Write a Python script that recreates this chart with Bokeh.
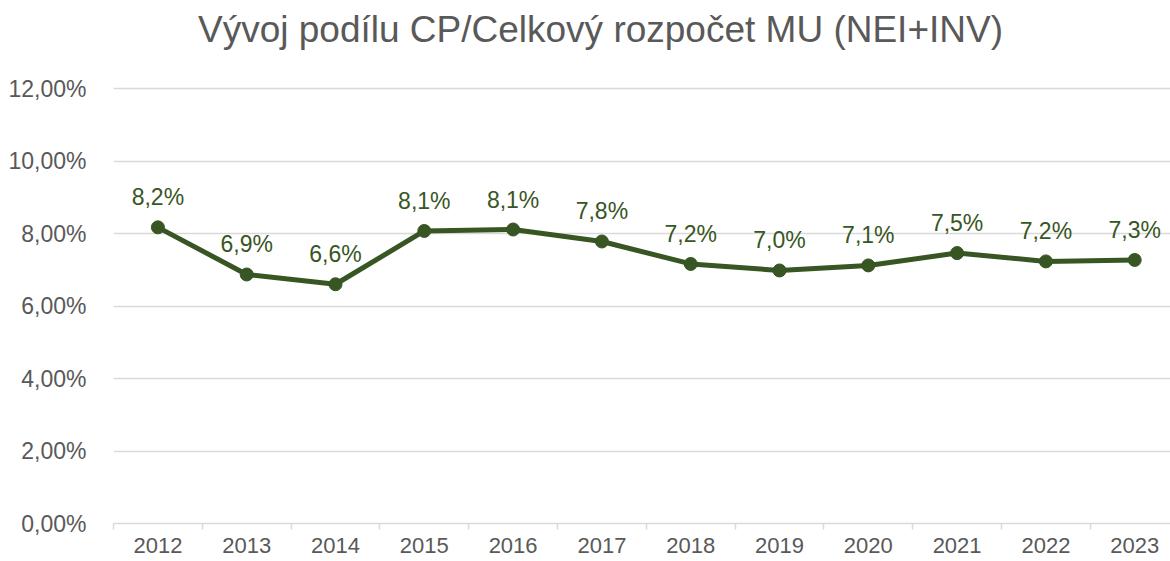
from bokeh.plotting import figure
from bokeh.models import FixedTicker, ColumnDataSource, Range1d, Label
from bokeh.embed import file_html
from bokeh.resources import INLINE
from bokeh.core.properties import value

title = "Vývoj podílu CP/Celkový rozpočet MU (NEI+INV)"
years = ["2012", "2013", "2014", "2015", "2016", "2017", "2018", "2019", "2020", "2021", "2022", "2023"]
share = [8.17, 6.87, 6.60, 8.07, 8.11, 7.78, 7.16, 6.98, 7.12, 7.46, 7.23, 7.27]
y_ticks = [0, 2, 4, 6, 8, 10, 12]

x_pos = list(range(len(years)))
labels = [("%.1f%%" % v).replace(".", ",") for v in share]
src = ColumnDataSource(dict(x=x_pos, y=share, lab=labels))

GREEN = "#375623"
GRAY = "#595959"
FONT = "Liberation Sans"

PX_X = 88.8    # pixels per category
PX_Y = 36.25   # pixels per percent
FRAME_W = 1170 - 113
FRAME_H = 561 - 38

p = figure(width=1170, height=561, output_backend="svg", toolbar_location=None,
           x_range=Range1d(-0.5, -0.5 + FRAME_W / PX_X), y_range=Range1d(0, FRAME_H / PX_Y),
           min_border_left=113, min_border_right=0, min_border_top=0, min_border_bottom=38)

p.outline_line_color = None
p.background_fill_color = "white"
p.border_fill_color = "white"

# title drawn inside the (extended) frame, above the 12 % gridline
p.add_layout(Label(x=-0.5 + (600 - 113) / PX_X, y=(FRAME_H - 29) / PX_Y, text=title,
                   text_font=FONT, text_font_size="37px", text_color=GRAY,
                   text_align="center", text_baseline="alphabetic"))

# y axis
p.yaxis.ticker = FixedTicker(ticks=y_ticks)
p.yaxis.major_label_overrides = {t: ("%.2f%%" % t).replace(".", ",") for t in y_ticks}
p.yaxis.axis_line_color = None
p.yaxis.major_tick_line_color = None
p.yaxis.minor_tick_line_color = None
p.yaxis.major_label_standoff = 21
p.yaxis.major_label_text_font = FONT
p.yaxis.major_label_text_font_size = "23px"
p.yaxis.major_label_text_color = GRAY
p.ygrid.grid_line_color = "#d9d9d9"
p.ygrid.grid_line_width = 1.3

# x axis
p.xaxis.ticker = FixedTicker(ticks=x_pos, minor_ticks=[i - 0.5 for i in range(len(years) + 1)])
p.xaxis.major_label_overrides = {i: y for i, y in enumerate(years)}
p.xaxis.axis_line_color = "#d9d9d9"
p.xaxis.axis_line_width = 1.5
p.xaxis.major_tick_line_color = None
p.xaxis.minor_tick_line_color = "#d9d9d9"
p.xaxis.minor_tick_line_width = 1.5
p.xaxis.minor_tick_out = 6
p.xaxis.minor_tick_in = 0
p.xaxis.major_label_standoff = 8
p.xaxis.major_label_text_font = FONT
p.xaxis.major_label_text_font_size = "22px"
p.xaxis.major_label_text_color = GRAY
p.xgrid.grid_line_color = None

p.line("x", "y", source=src, line_color=GREEN, line_width=5)
p.scatter("x", "y", source=src, size=13, fill_color=GREEN, line_color=GREEN)
p.text("x", "y", text="lab", source=src, text_font=value(FONT), text_font_size="23px",
       text_color=GREEN, text_align="center", text_baseline="alphabetic", y_offset=-30)

open("out.html", "w").write(file_html(p, INLINE))
